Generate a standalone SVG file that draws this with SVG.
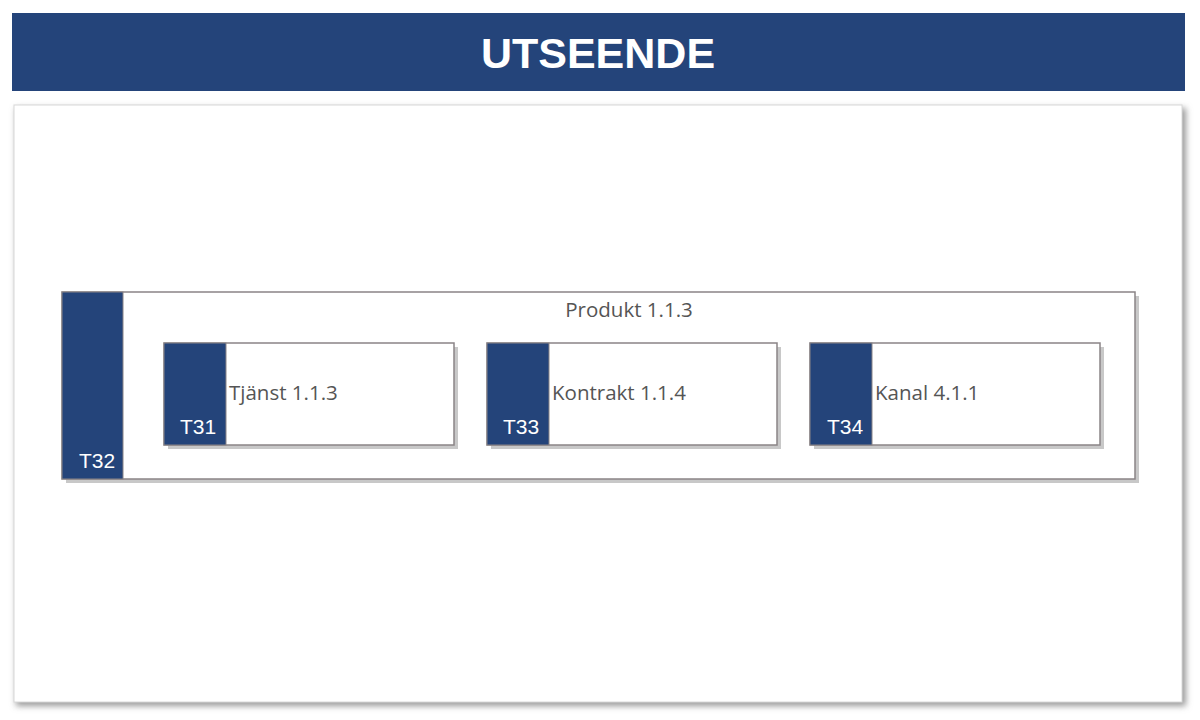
<svg xmlns="http://www.w3.org/2000/svg" width="1200" height="720" viewBox="0 0 1200 720">
<defs>
<filter id="psh" x="-5%" y="-5%" width="110%" height="110%">
<feGaussianBlur stdDeviation="3"/>
</filter>
<style>
.box{fill:#fff;stroke:#8a8486;stroke-width:1.5}
.shadow{fill:#c8c8c8}
.bar{fill:#24447a;stroke:#8a8486;stroke-width:1}
.lbl{font-family:"Open Sans","Noto Sans",sans-serif;font-size:20.5px;fill:#555}
.tag{font-family:"Liberation Sans",Arial,sans-serif;font-size:21px;fill:#fff}
</style>
</defs>
<rect width="1200" height="720" fill="#fff"/>
<g id="header">
<rect x="12" y="13" width="1173" height="78" fill="#24447a"/>
<text x="598" y="68" text-anchor="middle" font-family="Liberation Sans,Arial,sans-serif" font-size="43" font-weight="bold" fill="#fff">UTSEENDE</text>
</g>
<g id="panel">
<rect x="16" y="108" width="1170" height="598" fill="#9a9a9a" filter="url(#psh)"/>
<rect x="14" y="105" width="1168" height="597" fill="#fff" stroke="#d8d8d8" stroke-width="1"/>
</g>
<g id="produkt">
<rect class="shadow" x="66" y="296" width="1073" height="187"/>
<rect class="box" x="62" y="292" width="1073" height="187"/>
<rect class="bar" x="62" y="292" width="61" height="187"/>
<text class="tag" x="97" y="468" text-anchor="middle">T32</text>
<text class="lbl" x="629" y="317" text-anchor="middle">Produkt 1.1.3</text>
</g>
<g id="tjanst">
<rect class="shadow" x="168" y="347" width="290" height="102"/>
<rect class="box" x="164" y="343" width="290" height="102"/>
<rect class="bar" x="164" y="343" width="62" height="102"/>
<text class="tag" x="198" y="434" text-anchor="middle">T31</text>
<text class="lbl" x="229" y="400">Tjänst 1.1.3</text>
</g>
<g id="kontrakt">
<rect class="shadow" x="491" y="347" width="290" height="102"/>
<rect class="box" x="487" y="343" width="290" height="102"/>
<rect class="bar" x="487" y="343" width="62" height="102"/>
<text class="tag" x="521" y="434" text-anchor="middle">T33</text>
<text class="lbl" x="552" y="400">Kontrakt 1.1.4</text>
</g>
<g id="kanal">
<rect class="shadow" x="814" y="347" width="290" height="102"/>
<rect class="box" x="810" y="343" width="290" height="102"/>
<rect class="bar" x="810" y="343" width="62" height="102"/>
<text class="tag" x="845" y="434" text-anchor="middle">T34</text>
<text class="lbl" x="875" y="400">Kanal 4.1.1</text>
</g>
<g id="connectors"/>
</svg>
